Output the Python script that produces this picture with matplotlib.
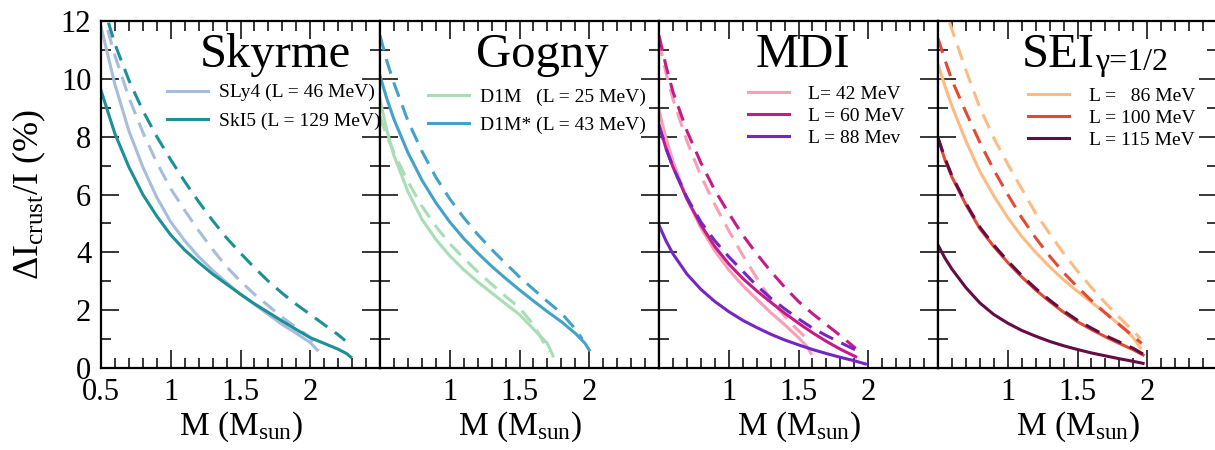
import matplotlib
matplotlib.use('Agg')
from matplotlib import pyplot as plt
from matplotlib.ticker import MultipleLocator

plt.rcParams['font.family'] = ['Liberation Serif', 'DejaVu Serif']
plt.rcParams['mathtext.fontset'] = 'custom'
plt.rcParams['mathtext.rm'] = 'Liberation Serif'
plt.rcParams['mathtext.it'] = 'Liberation Serif:italic'

# ---- Skyrme ----
sly4_m = [0.5, 0.6, 0.7, 0.8, 0.9, 1.0, 1.1, 1.2, 1.3, 1.4, 1.5, 1.6, 1.7, 1.8, 1.9, 2.0, 2.05]
sly4_y = [11.8, 9.8, 8.2, 6.95, 5.9, 5.05, 4.4, 3.85, 3.38, 2.95, 2.55, 2.2, 1.85, 1.5, 1.2, 0.88, 0.62]
sly4_dm = [0.5, 0.6, 0.7, 0.8, 0.9, 1.0, 1.1, 1.2, 1.3, 1.4, 1.5, 1.6, 1.7, 1.8, 1.9, 2.0, 2.06]
sly4_dy = [12.5, 10.8, 9.35, 8.15, 7.1, 6.2, 5.45, 4.75, 4.1, 3.5, 3.0, 2.55, 2.15, 1.75, 1.4, 1.05, 0.62]
ski5_m = [0.5, 0.6, 0.7, 0.8, 0.9, 1.0, 1.1, 1.2, 1.3, 1.4, 1.5, 1.6, 1.7, 1.8, 1.9, 2.0, 2.1, 2.2, 2.26, 2.29]
ski5_y = [9.6, 8.1, 6.95, 6.0, 5.25, 4.6, 4.08, 3.65, 3.25, 2.9, 2.55, 2.22, 1.92, 1.62, 1.33, 1.05, 0.85, 0.65, 0.5, 0.38]
ski5_dm = [0.5, 0.55, 0.6, 0.7, 0.8, 0.9, 1.0, 1.1, 1.2, 1.3, 1.4, 1.5, 1.6, 1.7, 1.8, 1.9, 2.0, 2.1, 2.2, 2.25]
ski5_dy = [13.0, 12.0, 11.2, 9.95, 8.9, 8.0, 7.2, 6.45, 5.75, 5.1, 4.5, 3.97, 3.47, 3.0, 2.58, 2.2, 1.85, 1.5, 1.15, 0.95]

# ---- Gogny ----
d1m_m = [0.5, 0.55, 0.6, 0.7, 0.8, 0.9, 1.0, 1.1, 1.2, 1.3, 1.4, 1.5, 1.6, 1.7, 1.74]
d1m_y = [9.3, 8.2, 7.35, 6.1, 5.15, 4.45, 3.88, 3.4, 2.98, 2.6, 2.22, 1.85, 1.35, 0.85, 0.42]
d1m_dm = [0.5, 0.55, 0.6, 0.7, 0.8, 0.9, 1.0, 1.1, 1.2, 1.3, 1.4, 1.5, 1.6, 1.66, 1.71]
d1m_dy = [8.7, 8.0, 7.45, 6.45, 5.6, 4.9, 4.3, 3.8, 3.33, 2.9, 2.48, 2.08, 1.5, 1.0, 0.55]
d1ms_m = [0.5, 0.55, 0.6, 0.7, 0.8, 0.9, 1.0, 1.1, 1.2, 1.3, 1.4, 1.5, 1.6, 1.7, 1.8, 1.9, 1.97, 2.0]
d1ms_y = [10.1, 9.3, 8.6, 7.45, 6.5, 5.72, 5.05, 4.48, 3.98, 3.52, 3.1, 2.7, 2.32, 1.95, 1.6, 1.2, 0.85, 0.62]
d1ms_dm = [0.5, 0.55, 0.6, 0.7, 0.8, 0.9, 1.0, 1.1, 1.2, 1.3, 1.4, 1.5, 1.6, 1.7, 1.8, 1.9, 1.95]
d1ms_dy = [11.5, 10.6, 9.85, 8.55, 7.5, 6.6, 5.85, 5.2, 4.62, 4.1, 3.62, 3.15, 2.72, 2.3, 1.9, 1.35, 1.0]

# ---- MDI ----
mdi42_m = [0.5, 0.55, 0.6, 0.7, 0.8, 0.9, 1.0, 1.1, 1.2, 1.3, 1.4, 1.5, 1.56, 1.59]
mdi42_y = [8.9, 7.95, 7.15, 5.85, 4.85, 4.05, 3.4, 2.85, 2.38, 1.92, 1.5, 1.05, 0.75, 0.5]
mdi42_dm = [0.5, 0.55, 0.6, 0.7, 0.8, 0.9, 1.0, 1.1, 1.2, 1.3, 1.4, 1.47, 1.57]
mdi42_dy = [11.3, 10.2, 9.3, 7.85, 6.65, 5.65, 4.75, 3.9, 3.12, 2.38, 1.8, 1.43, 0.97]
mdi60_m = [0.5, 0.55, 0.6, 0.7, 0.8, 0.9, 1.0, 1.1, 1.2, 1.3, 1.4, 1.5, 1.6, 1.7, 1.8, 1.91]
mdi60_y = [8.4, 7.6, 6.95, 5.85, 4.95, 4.2, 3.6, 3.1, 2.67, 2.28, 1.9, 1.55, 1.22, 0.92, 0.65, 0.39]
mdi60_dm = [0.5, 0.55, 0.6, 0.7, 0.8, 0.9, 1.0, 1.1, 1.2, 1.3, 1.4, 1.5, 1.6, 1.7, 1.8, 1.91]
mdi60_dy = [11.5, 10.45, 9.55, 8.2, 7.1, 6.15, 5.35, 4.6, 3.95, 3.35, 2.8, 2.3, 1.88, 1.5, 1.12, 0.68]
mdi88_m = [0.5, 0.55, 0.6, 0.7, 0.8, 0.9, 1.0, 1.1, 1.2, 1.3, 1.4, 1.5, 1.6, 1.7, 1.8, 1.9, 1.98]
mdi88_y = [4.94, 4.4, 3.95, 3.25, 2.72, 2.3, 1.95, 1.65, 1.4, 1.17, 0.97, 0.8, 0.64, 0.5, 0.37, 0.25, 0.14]
mdi88_dm = [0.5, 0.55, 0.6, 0.7, 0.8, 0.9, 1.0, 1.1, 1.2, 1.3, 1.4, 1.5, 1.6, 1.7, 1.8, 1.95]
mdi88_dy = [8.4, 7.6, 6.95, 5.9, 5.05, 4.4, 3.85, 3.35, 2.85, 2.42, 2.05, 1.7, 1.38, 1.12, 0.88, 0.53]

# ---- SEI gamma=1/2 ----
sei86_m = [0.5, 0.55, 0.6, 0.7, 0.8, 0.9, 1.0, 1.1, 1.2, 1.3, 1.4, 1.5, 1.6, 1.7, 1.8, 1.9, 1.95]
sei86_y = [10.5, 9.75, 9.05, 7.85, 6.8, 5.95, 5.2, 4.55, 4.0, 3.5, 3.05, 2.65, 2.27, 1.9, 1.5, 1.05, 0.7]
sei86_dm = [0.5, 0.58, 0.6, 0.7, 0.8, 0.9, 1.0, 1.1, 1.2, 1.3, 1.4, 1.5, 1.6, 1.7, 1.8, 1.9, 1.95]
sei86_dy = [13.3, 12.0, 11.7, 10.3, 9.0, 7.95, 7.05, 6.2, 5.35, 4.65, 3.97, 3.35, 2.78, 2.25, 1.75, 1.28, 1.02]
sei100_m = [0.5, 0.55, 0.6, 0.7, 0.8, 0.9, 1.0, 1.1, 1.2, 1.3, 1.4, 1.5, 1.6, 1.7, 1.8, 1.9, 1.97]
sei100_y = [7.94, 7.2, 6.6, 5.65, 4.82, 4.2, 3.65, 3.15, 2.7, 2.3, 1.93, 1.6, 1.33, 1.08, 0.85, 0.63, 0.45]
sei100_dm = [0.5, 0.55, 0.6, 0.7, 0.8, 0.9, 1.0, 1.1, 1.2, 1.3, 1.4, 1.5, 1.6, 1.7, 1.8, 1.9, 1.96]
sei100_dy = [11.4, 10.65, 9.95, 8.85, 7.8, 6.85, 6.0, 5.2, 4.5, 3.87, 3.3, 2.8, 2.33, 1.9, 1.5, 1.1, 0.85]
sei115_m = [0.5, 0.55, 0.6, 0.7, 0.8, 0.9, 1.0, 1.1, 1.2, 1.3, 1.4, 1.5, 1.6, 1.7, 1.8, 1.9, 1.97]
sei115_y = [4.25, 3.8, 3.42, 2.78, 2.25, 1.85, 1.55, 1.3, 1.1, 0.92, 0.77, 0.64, 0.52, 0.42, 0.32, 0.23, 0.16]
sei115_dm = [0.5, 0.55, 0.6, 0.7, 0.8, 0.9, 1.0, 1.1, 1.2, 1.3, 1.4, 1.5, 1.6, 1.7, 1.8, 1.9, 1.97]
sei115_dy = [7.97, 7.25, 6.65, 5.7, 4.87, 4.25, 3.7, 3.2, 2.75, 2.35, 1.98, 1.65, 1.38, 1.12, 0.9, 0.68, 0.48]

panels = [
    dict(title='Skyrme', tx=1.207, leg=(0.237, 0.819), ltp=0.55, lsp=0.57,
         curves=[('SLy4 (L = 46 MeV)', '#a6bddb', sly4_m, sly4_y, sly4_dm, sly4_dy),
                 ('SkI5 (L = 129 MeV)', '#1c9099', ski5_m, ski5_y, ski5_dm, ski5_dy)]),
    dict(title='Gogny', tx=1.19, leg=(0.172, 0.806), ltp=0.55, lsp=0.52,
         curves=[('D1M   (L = 25 MeV)', '#a8ddb5', d1m_m, d1m_y, d1m_dm, d1m_dy),
                 ('D1M* (L = 43 MeV)', '#43a2ca', d1ms_m, d1ms_y, d1ms_dm, d1ms_dy)]),
    dict(title='MDI', tx=1.19, leg=(0.318, 0.815), ltp=1.0, lsp=0.22,
         curves=[('L= 42 MeV', '#fa9fb5', mdi42_m, mdi42_y, mdi42_dm, mdi42_dy),
                 ('L = 60 MeV', '#c51b8a', mdi60_m, mdi60_y, mdi60_dm, mdi60_dy),
                 ('L = 88 Mev', '#7526c2', mdi88_m, mdi88_y, mdi88_dm, mdi88_dy)]),
    dict(title='SEI', tx=1.10, leg=(0.324, 0.809), ltp=1.0, lsp=0.22,
         curves=[('L =   86 MeV', '#fdbb84', sei86_m, sei86_y, sei86_dm, sei86_dy),
                 ('L = 100 MeV', '#e34a33', sei100_m, sei100_y, sei100_dm, sei100_dy),
                 ('L = 115 MeV', '#650c45', sei115_m, sei115_y, sei115_dm, sei115_dy)]),
]

fig = plt.figure(figsize=(12.15, 4.5), dpi=100)
left, bottom, w, h = 101 / 1215, 82 / 450, 279 / 1215, 347 / 450

for i, p in enumerate(panels):
    ax = fig.add_axes([left + i * w, bottom, w, h])
    for label, col, sm, sy, dm, dy in p['curves']:
        ax.plot(sm, sy, color=col, lw=2.2, label=label)
        ax.plot(dm, dy, color=col, lw=2.2, ls=(0, (5, 3)))
    ax.set_xlim(0.5, 2.5)
    ax.set_ylim(0, 12)
    ax.set_xticks([0.5, 1, 1.5, 2])
    ax.set_xticklabels(['0.5' if i == 0 else '', '1', '1.5', '2'])
    ax.set_yticks(range(0, 13, 2))
    if i == 0:
        ax.set_yticklabels([str(v) for v in range(0, 13, 2)])
    else:
        ax.set_yticklabels([])
    ax.xaxis.set_minor_locator(MultipleLocator(0.1))
    ax.yaxis.set_minor_locator(MultipleLocator(1))
    ax.tick_params(which='both', direction='in', top=True, right=True, width=1.1,
                   labelsize=22, pad=7)
    ax.tick_params(which='major', length=13)
    ax.tick_params(which='minor', length=7)
    for s in ax.spines.values():
        s.set_linewidth(1.6)
    ax.set_xlabel(r'M (M$_{\mathrm{sun}}$)', fontsize=24, labelpad=2)
    t = ax.text(p['tx'], 10.4, p['title'], fontsize=35, ha='left', va='baseline')
    if p['title'] == 'SEI':
        ax.annotate('γ=1/2', xy=(1, 0), xycoords=t, fontsize=23,
                    ha='left', va='bottom')
    ax.legend(loc='upper left', bbox_to_anchor=p['leg'], frameon=False, fontsize=14,
              handlelength=2.1, handletextpad=p['ltp'], labelspacing=p['lsp'],
              borderpad=0, borderaxespad=0)

fig.text(0.024, 0.568, r'$\Delta$I$_{\mathrm{crust}}$/I (%)', fontsize=26,
         rotation=90, ha='center', va='center')

fig.savefig('out.png', dpi=100)
